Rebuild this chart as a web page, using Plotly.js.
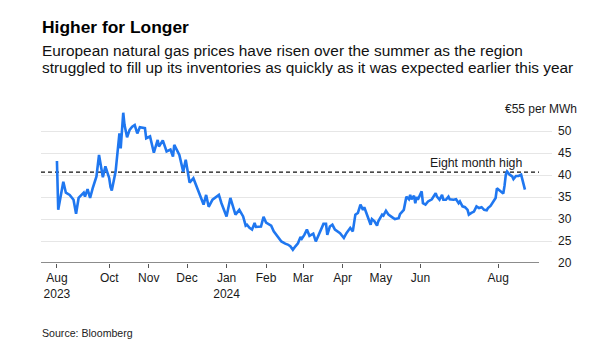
<!DOCTYPE html>
<html>
<head>
<meta charset="utf-8">
<script src="https://cdn.plot.ly/plotly-3.0.1.min.js"></script>
<style>html,body{margin:0;padding:0;background:#fff;}#chart{width:614px;height:356px;}</style>
</head>
<body>
<div id="chart"></div>
<script>
const dates = [
"2023-08-21","2023-08-22","2023-08-26","2023-08-28","2023-08-31","2023-09-03","2023-09-05","2023-09-07","2023-09-11","2023-09-12",
"2023-09-14","2023-09-16","2023-09-18","2023-09-21","2023-09-23","2023-09-26","2023-09-28","2023-10-01","2023-10-02","2023-10-03",
"2023-10-06","2023-10-07","2023-10-09","2023-10-10","2023-10-12","2023-10-13","2023-10-15","2023-10-17","2023-10-19","2023-10-21",
"2023-10-23","2023-10-25","2023-10-29","2023-10-30","2023-11-02","2023-11-05","2023-11-08","2023-11-09","2023-11-12","2023-11-15",
"2023-11-18","2023-11-20","2023-11-21","2023-11-25","2023-11-28","2023-11-30","2023-12-03","2023-12-06","2023-12-11","2023-12-14",
"2023-12-16","2023-12-18","2023-12-21","2023-12-26","2023-12-28","2024-01-01","2024-01-04","2024-01-08","2024-01-11","2024-01-14",
"2024-01-16","2024-01-17","2024-01-19","2024-01-21","2024-01-23","2024-01-24","2024-01-28","2024-01-30","2024-02-01","2024-02-05",
"2024-02-07","2024-02-10","2024-02-13","2024-02-16","2024-02-18","2024-02-20","2024-02-22","2024-02-24","2024-02-26","2024-02-28",
"2024-02-29","2024-03-02","2024-03-04","2024-03-06","2024-03-09","2024-03-11","2024-03-13","2024-03-15","2024-03-17","2024-03-19",
"2024-03-20","2024-03-22","2024-03-24","2024-03-26","2024-03-30","2024-04-02","2024-04-04","2024-04-07","2024-04-09","2024-04-11",
"2024-04-13","2024-04-15","2024-04-17","2024-04-18","2024-04-20","2024-04-23","2024-04-24","2024-04-26","2024-04-28","2024-04-29",
"2024-05-02","2024-05-03","2024-05-05","2024-05-07","2024-05-10","2024-05-12","2024-05-15","2024-05-16","2024-05-19","2024-05-20",
"2024-05-21","2024-05-23","2024-05-24","2024-05-25","2024-05-27","2024-05-28","2024-05-29","2024-05-30","2024-06-01","2024-06-02",
"2024-06-03","2024-06-05","2024-06-07","2024-06-10","2024-06-13","2024-06-14","2024-06-16","2024-06-18","2024-06-19","2024-06-21",
"2024-06-23","2024-06-24","2024-06-27","2024-06-29","2024-07-01","2024-07-02","2024-07-04","2024-07-06","2024-07-08","2024-07-09",
"2024-07-11","2024-07-13","2024-07-15","2024-07-17","2024-07-19","2024-07-21","2024-07-23","2024-07-24","2024-07-26","2024-07-28",
"2024-07-30","2024-07-31","2024-08-02","2024-08-03","2024-08-05","2024-08-06","2024-08-07","2024-08-08","2024-08-10","2024-08-12",
"2024-08-13","2024-08-15","2024-08-17","2024-08-19","2024-08-20","2024-08-21","2024-08-22"
];
const prices = [
43.2,32.1,38.5,36.0,35.5,34.4,31.2,34.8,36.0,35.1,
36.8,34.8,37.0,39.7,44.6,39.5,42.0,39.3,37.3,36.5,
40.8,43.5,49.5,46.1,54.2,51.4,48.6,50.3,51.0,51.4,
49.5,50.9,50.7,48.4,48.8,45.1,48.0,46.5,47.9,45.4,
45.8,44.2,46.9,44.6,40.8,43.5,38.3,39.3,35.5,33.3,
35.5,32.8,34.4,35.5,33.6,30.6,34.8,31.0,32.1,30.6,
28.5,28.7,28.0,27.6,29.1,28.2,28.3,30.5,29.2,28.5,
27.2,26.0,24.9,24.4,24.2,23.8,23.0,23.8,24.5,25.9,
25.5,26.4,27.6,26.2,26.7,24.9,26.2,27.4,28.9,28.9,
26.4,28.3,28.7,27.6,26.8,25.7,26.8,28.0,27.2,31.0,
31.4,33.3,32.1,32.7,31.0,28.7,30.0,29.5,28.5,29.5,
31.0,30.8,31.9,31.0,30.4,30.0,30.2,31.1,32.1,33.3,
35.1,34.5,35.5,34.5,35.3,33.6,35.0,34.4,35.5,36.3,
33.6,33.3,34.0,34.5,35.9,35.1,34.4,35.5,34.4,34.4,
35.1,34.5,34.4,34.5,33.6,34.0,32.9,32.7,32.1,31.0,
31.4,31.7,32.9,32.5,32.7,32.1,32.0,32.5,33.0,34.0,
34.8,37.0,36.5,36.1,35.8,37.6,40.1,40.8,40.1,39.7,
39.1,39.8,39.8,40.1,38.9,37.3,36.7
];
const xTickVals = ["2023-08-21","2023-10-01","2023-11-01","2023-12-01","2024-01-01","2024-02-01","2024-03-01","2024-04-01","2024-05-01","2024-06-01","2024-08-01"];
const xTickText = ["Aug<br>2023","Oct","Nov","Dec","Jan<br>2024","Feb","Mar","Apr","May","Jun","Aug"];
const yTickVals = [20,25,30,35,40,45,50,55];
const yTickText = ["20","25","30","35","40","45","50",""];
const highLevel = 40.7;

const FONT = "Liberation Sans, Arial, Helvetica, sans-serif";

const trace = {
  x: dates, y: prices, type: "scatter", mode: "lines",
  line: {color: "#1f77f0", width: 2.6},
  hoverinfo: "skip", showlegend: false
};

const layout = {
  width: 614, height: 356,
  margin: {l: 41, r: 62, t: 109.3, b: 92.7},
  paper_bgcolor: "#ffffff", plot_bgcolor: "#ffffff",
  font: {family: FONT, size: 12, color: "#1a1a1a"},
  showlegend: false,
  xaxis: {
    type: "date",
    range: ["2023-08-08 12:00", "2024-09-12 05:00"],
    tickmode: "array", tickvals: xTickVals, ticktext: xTickText,
    showgrid: false, zeroline: false, showline: false,
    ticks: "outside", ticklen: 4, tickwidth: 1, tickcolor: "#555",
    tickfont: {family: FONT, size: 12, color: "#1a1a1a"}
  },
  yaxis: {
    side: "right", range: [20, 55.05],
    tickmode: "array", tickvals: yTickVals, ticktext: yTickText,
    showgrid: true, gridcolor: "#e6e6e6", gridwidth: 1,
    zeroline: false, showline: false, ticks: "",
    ticklabelstandoff: 5,
    tickfont: {family: FONT, size: 12, color: "#1a1a1a"}
  },
  shapes: [
    {type: "line", xref: "paper", yref: "y", x0: 0, x1: 0.9746, y0: highLevel, y1: highLevel,
     line: {color: "#111", width: 1.3, dash: "4px,3px"}, layer: "below"},
    {type: "line", xref: "paper", yref: "y", x0: 0, x1: 0.9746, y0: 20, y1: 20,
     line: {color: "#8c8c8c", width: 2}, layer: "above"}
  ],
  annotations: [
    {xref: "paper", yref: "paper", x: 0, y: 1.5325, xanchor: "left", yanchor: "middle", xshift: -1,
     text: "<b>Higher for Longer</b>", showarrow: false, font: {family: FONT, size: 17.4, color: "#000"}},
    {xref: "paper", yref: "paper", x: 0, y: 1.3805, xanchor: "left", yanchor: "middle", xshift: -1,
     text: "European natural gas prices have risen over the summer as the region", showarrow: false,
     font: {family: FONT, size: 15.4, color: "#111"}},
    {xref: "paper", yref: "paper", x: 0, y: 1.2701, xanchor: "left", yanchor: "middle", xshift: -1,
     text: "struggled to fill up its inventories as quickly as it was expected earlier this year", showarrow: false,
     font: {family: FONT, size: 15.4, color: "#111"}},
    {xref: "paper", yref: "paper", x: 0, y: -0.4526, xanchor: "left", yanchor: "middle", xshift: -1,
     text: "Source: Bloomberg", showarrow: false, font: {family: FONT, size: 10.6, color: "#222"}},
    {xref: "paper", yref: "y", x: 1.0528, y: 55, xanchor: "right", yanchor: "middle",
     text: "€55 per MWh", showarrow: false, font: {family: FONT, size: 12, color: "#1a1a1a"}},
    {xref: "paper", yref: "y", x: 0.945, y: highLevel, xanchor: "right", yanchor: "bottom",
     text: "Eight month high", showarrow: false, font: {family: FONT, size: 12.3, color: "#1a1a1a"}}
  ]
};

Plotly.newPlot("chart", [trace], layout, {staticPlot: true, displayModeBar: false});
</script>
</body>
</html>
